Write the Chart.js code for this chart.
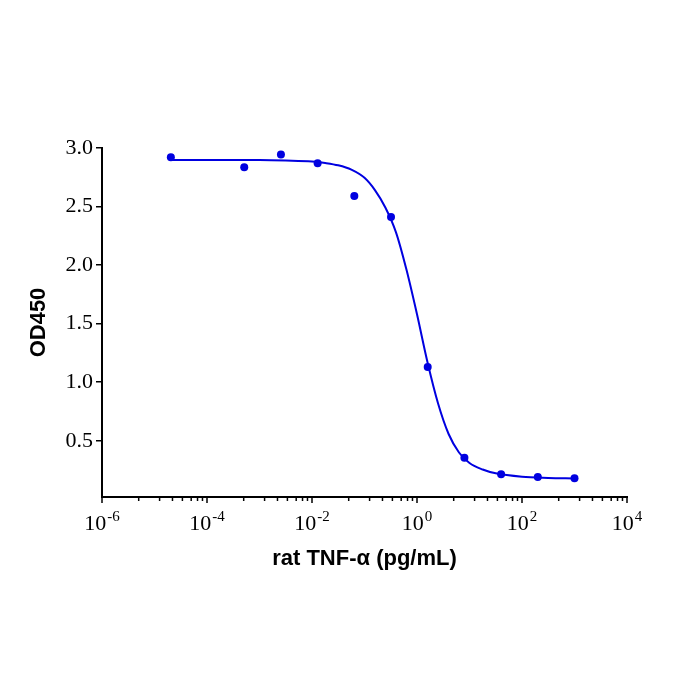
<!DOCTYPE html>
<html>
<head>
<meta charset="utf-8">
<script src="https://cdn.jsdelivr.net/npm/chart.js@4/dist/chart.umd.min.js"></script>
<style>
  html, body { margin: 0; padding: 0; background: #fff; }
  #wrap { width: 700px; height: 700px; }
</style>
</head>
<body>
<div id="wrap"><canvas id="myChart" width="700" height="700"></canvas></div>
<script>
// Measured points: rat TNF-alpha (pg/mL) vs OD450
const concentrations = [0.00002048, 0.000512, 0.00256, 0.0128, 0.064, 0.32, 1.6, 8, 40, 200, 1000];
const od450 = [2.92, 2.835, 2.945, 2.87, 2.59, 2.41, 1.13, 0.355, 0.215, 0.19, 0.18];

// Fitted curve
const curveX = [0.0000204, 0.001, 0.00316, 0.01, 0.0178, 0.0316, 0.0562, 0.1, 0.158, 0.251, 0.398,
                0.631, 1, 1.585, 2.512, 3.981, 6.31, 10, 17.8, 31.6, 100, 316, 1000];
const curveY = [2.898, 2.897, 2.893, 2.885, 2.872, 2.852, 2.815, 2.745, 2.64, 2.49, 2.28,
                1.96, 1.58, 1.17, 0.82, 0.56, 0.40, 0.31, 0.255, 0.222, 0.193, 0.183, 0.178];

// Axis labels
const yTicks = [0.5, 1.0, 1.5, 2.0, 2.5, 3.0];
const xMajorExponents = [-6, -4, -2, 0, 2, 4];
const xMinorFactors = [5, 12.5, 22, 34, 50, 66, 82];

const blue = '#0000e0';

const logAxisPlugin = {
    id: 'logAxis',
    afterDraw(chart) {
        const ctx = chart.ctx;
        const xs = chart.scales.x;
        const y0 = xs.top;
        ctx.save();
        ctx.strokeStyle = '#000';
        ctx.fillStyle = '#000';
        ctx.lineWidth = 1.5;

        xMajorExponents.forEach((e, i) => {
            const px = xs.getPixelForValue(Math.pow(10, e));
            ctx.beginPath();
            ctx.moveTo(px, y0);
            ctx.lineTo(px, y0 + 6);
            ctx.stroke();

            // minor ticks up to the next labelled decade
            if (i < xMajorExponents.length - 1) {
                xMinorFactors.forEach(f => {
                    const mx = xs.getPixelForValue(f * Math.pow(10, e));
                    ctx.beginPath();
                    ctx.moveTo(mx, y0);
                    ctx.lineTo(mx, y0 + 4);
                    ctx.stroke();
                });
            }

            // "10" with a raised exponent
            const exp = String(e);
            ctx.font = '22px "Liberation Serif"';
            const w1 = ctx.measureText('10').width;
            ctx.font = '15px "Liberation Serif"';
            const w2 = ctx.measureText(exp).width;
            const start = px - (w1 + w2 + 1) / 2;
            ctx.textBaseline = 'alphabetic';
            ctx.textAlign = 'left';
            ctx.font = '22px "Liberation Serif"';
            ctx.fillText('10', start, 530);
            ctx.font = '15px "Liberation Serif"';
            ctx.fillText(exp, start + w1 + 1, 521);
        });
        ctx.restore();
    }
};

const ctx = document.getElementById('myChart');

const myChart = new Chart(ctx, {
    type: 'line',
    data: {
        datasets: [{
            label: 'OD450',
            data: concentrations.map((c, i) => ({ x: c, y: od450[i] })),
            showLine: false,
            pointRadius: 4,
            pointBackgroundColor: blue,
            pointBorderWidth: 0
        }, {
            label: 'Fit',
            data: curveX.map((c, i) => ({ x: c, y: curveY[i] })),
            borderColor: blue,
            borderWidth: 2,
            pointRadius: 0,
            cubicInterpolationMode: 'monotone',
            fill: false
        }]
    },
    options: {
        responsive: false,
        animation: false,
        layout: {
            padding: { top: 148, right: 73, bottom: 125, left: 0 }
        },
        plugins: {
            legend: { display: false },
            tooltip: { enabled: false }
        },
        scales: {
            x: {
                type: 'logarithmic',
                position: 'bottom',
                min: 1e-6,
                max: 1e4,
                grid: { display: false },
                border: { display: true, color: '#000', width: 2 },
                ticks: { display: false },
                title: {
                    display: true,
                    text: 'rat TNF-α (pg/mL)',
                    color: '#000',
                    font: { family: '"Liberation Sans", Arial', size: 22, weight: 'bold' },
                    padding: { top: 0, bottom: 3 }
                },
                afterFit(scale) {
                    scale.height = 78;
                }
            },
            y: {
                type: 'linear',
                min: 0.02,
                max: 3.0,
                grid: {
                    drawOnChartArea: false,
                    drawTicks: true,
                    tickLength: 6,
                    color: '#000',
                    lineWidth: 1.5
                },
                border: { display: true, color: '#000', width: 2 },
                ticks: {
                    color: '#000',
                    padding: 3,
                    font: { family: '"Liberation Serif"', size: 22 },
                    callback: v => v.toFixed(1)
                },
                afterBuildTicks(scale) {
                    scale.ticks = yTicks.map(v => ({ value: v }));
                },
                title: {
                    display: true,
                    text: 'OD450',
                    color: '#000',
                    font: { family: '"Liberation Sans", Arial', size: 22, weight: 'bold' },
                    padding: { top: 26, bottom: 0 }
                },
                afterFit(scale) {
                    scale.width = 102;
                }
            }
        }
    },
    plugins: [logAxisPlugin]
});
</script>
</body>
</html>
